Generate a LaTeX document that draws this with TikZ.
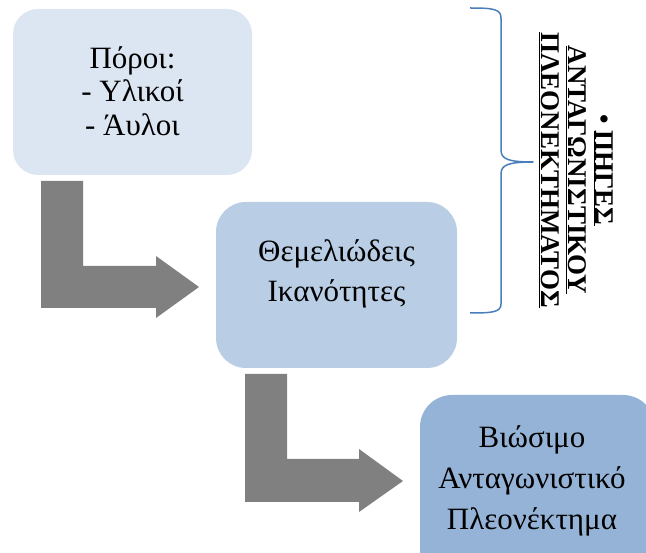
\documentclass[tikz,border=0pt]{standalone}
\usepackage{fontspec}
\setmainfont{Liberation Serif}
\definecolor{cA}{HTML}{DCE6F2}
\definecolor{cB}{HTML}{B9CDE5}
\definecolor{cC}{HTML}{95B3D7}
\definecolor{cArrow}{HTML}{808080}
\definecolor{cBrace}{HTML}{4A7EBB}
\begin{document}
\begin{tikzpicture}[x=1pt,y=-1pt,
  box/.style={draw=none, inner sep=0pt},
  boxtext/.style={align=center, inner sep=0pt, text=black},
  blockarrow/.style={fill=cArrow, draw=none},
  bracestyle/.style={draw=cBrace, line width=1.5pt, line join=round},
  sidetext/.style={rotate=-90, align=center, inner sep=0pt,
    font=\bfseries\fontsize{27}{27}\selectfont}]
\useasboundingbox (0,0) rectangle (646,553);
\clip (0,0) rectangle (646,553);
% boxes
\node[box, fill=cA, rounded corners=25pt, minimum width=239pt, minimum height=166pt] (b1) at (132.5,92) {};
\node[box, fill=cB, rounded corners=30pt, minimum width=241pt, minimum height=166pt] (b2) at (336.5,285) {};
\node[box, fill=cC, rounded corners=32pt, minimum width=235pt, minimum height=200pt] (b3) at (537.5,495) {};
% texts
\node[boxtext, font=\fontsize{31}{33.5}\selectfont] (t1) at (132.5,91) {Πόροι:\\- Υλικοί\\- Άυλοι};
\node[boxtext, font=\fontsize{31}{40}\selectfont] (t2) at (336.5,274) {Θεμελιώδεις\\Ικανότητες};
\node[boxtext, font=\fontsize{31}{41}\selectfont] (t3) at (532,481) {Βιώσιμο\\Ανταγωνιστικό\\Πλεονέκτημα};
% block arrows
\fill[blockarrow] (41,181) -- (83,181) -- (83,266) -- (156,266) -- (156,256) -- (199,287)
  -- (156,318) -- (156,308) -- (41,308) -- cycle;
\fill[blockarrow] (245,374) -- (287,374) -- (287,459) -- (359,459) -- (359,449) -- (403,481)
  -- (359,512) -- (359,502) -- (245,502) -- cycle;
% brace
\coordinate (brTop) at (470,8);
\coordinate (brTip) at (533,162);
\coordinate (brBot) at (470,313);
\draw[bracestyle] (brTop) .. controls (493,8) and (501,9) .. (501,18) -- (501,150)
  .. controls (501,159) and (508,162) .. (brTip)
  .. controls (508,162) and (501,165) .. (501,174) -- (501,304)
  .. controls (501,312) and (493,313) .. (brBot);
% side text
\node[sidetext] (src) at (576,170) {• \underline{ΠΗΓΕΣ}\\\underline{ΑΝΤΑΓΩΝΙΣΤΙΚΟΥ}\\\underline{ΠΛΕΟΝΕΚΤΗΜΑΤΟΣ}};
\end{tikzpicture}
\end{document}
